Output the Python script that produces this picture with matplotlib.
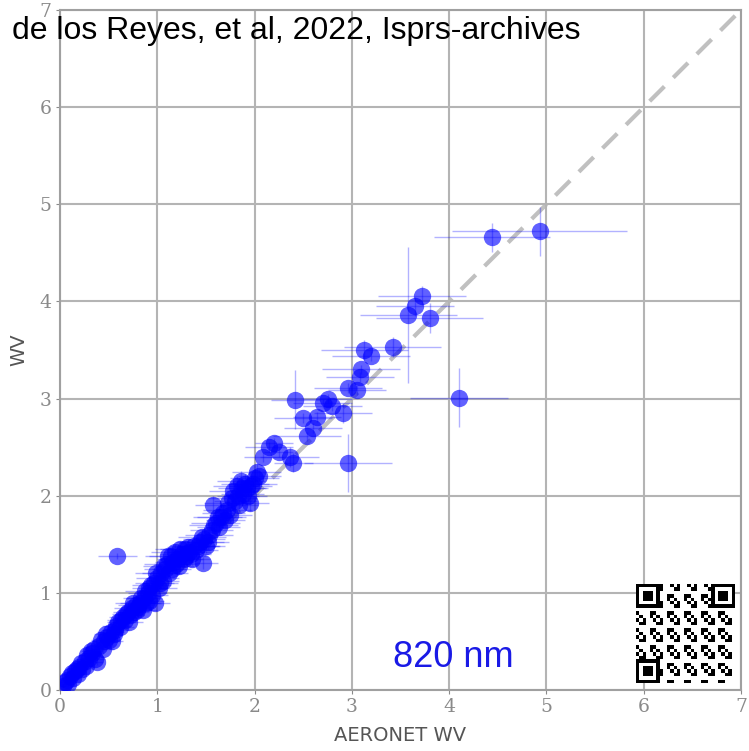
import matplotlib
matplotlib.use("Agg")
import matplotlib.pyplot as plt
import numpy as np

# water vapour: AERONET vs retrieved (820 nm)
aeronet_wv = [0.03, 0.05, 0.08, 0.10, 0.13, 0.15, 0.18, 0.20, 0.23, 0.26,
              0.28, 0.30, 0.33, 0.36, 0.38, 0.40, 0.42, 0.45, 0.48, 0.50,
              0.52, 0.55, 0.58, 0.60, 0.62, 0.65, 0.67, 0.70, 0.72, 0.74,
              0.76, 0.78, 0.80, 0.82, 0.85, 0.86, 0.88, 0.90, 0.92, 0.95,
              0.97, 0.98, 1.00, 1.02, 1.04, 1.06, 1.08, 1.10, 1.12, 1.14,
              1.16, 1.18, 1.20, 1.22, 1.25, 1.28, 1.30, 1.33, 1.36, 1.38,
              1.40, 1.44, 1.47, 1.48, 1.50, 1.53, 1.56, 1.57, 1.60, 1.63,
              1.66, 1.70, 1.72, 1.75, 1.78, 1.80, 1.82, 1.84, 1.86, 1.88,
              1.90, 1.93, 1.96, 2.00, 2.05,
              0.07, 0.12, 0.17, 0.22, 0.27, 0.32, 0.35, 0.44, 0.47, 0.53,
              0.57, 0.63, 0.68, 0.71, 0.75, 0.79, 0.83, 0.87, 0.91, 0.94,
              0.99, 1.03, 1.07, 1.11, 1.15, 1.19, 1.23, 1.27, 1.32, 1.35,
              1.42, 1.46, 1.52, 1.58, 1.62, 1.68, 1.73, 1.77, 1.83, 1.87,
              1.92, 1.98, 2.02, 1.95,
              2.09, 2.15, 2.20, 2.25, 2.36, 2.40, 2.42, 2.50, 2.54, 2.60,
              2.64, 2.70, 2.75, 2.80, 2.91, 2.96, 3.05, 3.08, 3.09, 3.13,
              3.20, 3.42, 3.58, 3.65, 3.72, 3.80, 4.44, 4.93, 4.10, 2.96,
              0.59]
model_wv = [0.04, 0.08, 0.06, 0.14, 0.12, 0.20, 0.17, 0.24, 0.22, 0.30,
            0.36, 0.33, 0.38, 0.32, 0.29, 0.45, 0.52, 0.50, 0.55, 0.52,
            0.60, 0.58, 0.66, 0.70, 0.65, 0.75, 0.72, 0.80, 0.77, 0.84,
            0.80, 0.88, 0.85, 0.90, 0.82, 0.95, 0.90, 1.00, 1.05, 0.98,
            1.10, 0.90, 1.15, 1.05, 1.20, 1.12, 1.25, 1.30, 1.20, 1.38,
            1.32, 1.42, 1.35, 1.28, 1.40, 1.45, 1.38, 1.42, 1.35, 1.48,
            1.44, 1.52, 1.31, 1.55, 1.48, 1.60, 1.65, 1.90, 1.72, 1.68,
            1.78, 1.75, 1.85, 1.80, 2.05, 1.95, 2.10, 1.90, 2.15, 2.02,
            2.12, 2.00, 2.10, 2.18, 2.20,
            0.10, 0.18, 0.22, 0.28, 0.25, 0.40, 0.42, 0.42, 0.58, 0.50,
            0.62, 0.72, 0.78, 0.70, 0.90, 0.82, 0.95, 1.02, 0.92, 1.08,
            1.20, 1.10, 1.28, 1.38, 1.25, 1.30, 1.45, 1.35, 1.47, 1.40,
            1.48, 1.58, 1.52, 1.70, 1.78, 1.82, 1.92, 1.98, 2.00, 2.08,
            2.08, 2.12, 2.24, 1.92,
            2.40, 2.50, 2.54, 2.45, 2.40, 2.34, 2.99, 2.80, 2.61, 2.70,
            2.81, 2.95, 3.00, 2.92, 2.85, 3.11, 3.09, 3.22, 3.30, 3.50,
            3.44, 3.53, 3.86, 3.95, 4.06, 3.83, 4.66, 4.72, 3.01, 2.34,
            1.38]
aeronet_err = [0.05, 0.05, 0.06, 0.06, 0.05, 0.08, 0.06, 0.08, 0.07, 0.10,
               0.08, 0.10, 0.08, 0.10, 0.06, 0.12, 0.10, 0.12, 0.10, 0.12,
               0.14, 0.10, 0.15, 0.12, 0.14, 0.15, 0.12, 0.16, 0.14, 0.18,
               0.15, 0.18, 0.16, 0.20, 0.15, 0.18, 0.16, 0.20, 0.18, 0.16,
               0.20, 0.15, 0.22, 0.18, 0.20, 0.16, 0.22, 0.24, 0.20, 0.22,
               0.18, 0.24, 0.20, 0.16, 0.22, 0.25, 0.20, 0.22, 0.18, 0.25,
               0.22, 0.25, 0.15, 0.22, 0.20, 0.25, 0.22, 0.18, 0.25, 0.22,
               0.25, 0.20, 0.25, 0.22, 0.25, 0.22, 0.25, 0.20, 0.25, 0.22,
               0.25, 0.20, 0.22, 0.25, 0.22,
               0.05, 0.06, 0.07, 0.08, 0.08, 0.10, 0.10, 0.12, 0.12, 0.12,
               0.14, 0.15, 0.15, 0.14, 0.18, 0.16, 0.18, 0.20, 0.16, 0.20,
               0.22, 0.18, 0.22, 0.24, 0.20, 0.22, 0.25, 0.20, 0.22, 0.20,
               0.22, 0.25, 0.22, 0.25, 0.25, 0.22, 0.25, 0.25, 0.22, 0.25,
               0.22, 0.25, 0.25, 0.20,
               0.20, 0.25, 0.20, 0.15, 0.30, 0.20, 0.25, 0.30, 0.35, 0.30,
               0.25, 0.30, 0.25, 0.30, 0.30, 0.35, 0.30, 0.35, 0.40, 0.45,
               0.40, 0.50, 0.50, 0.40, 0.45, 0.55, 0.60, 0.90, 0.50, 0.45,
               0.20]
model_err = [0.02, 0.02, 0.03, 0.03, 0.02, 0.03, 0.03, 0.04, 0.03, 0.04,
             0.03, 0.04, 0.03, 0.04, 0.03, 0.05, 0.04, 0.05, 0.04, 0.05,
             0.05, 0.04, 0.05, 0.05, 0.04, 0.06, 0.05, 0.06, 0.05, 0.06,
             0.05, 0.06, 0.05, 0.07, 0.05, 0.06, 0.05, 0.07, 0.06, 0.05,
             0.07, 0.05, 0.08, 0.06, 0.07, 0.06, 0.08, 0.08, 0.06, 0.08,
             0.07, 0.08, 0.07, 0.06, 0.08, 0.08, 0.07, 0.08, 0.06, 0.08,
             0.07, 0.08, 0.06, 0.08, 0.07, 0.08, 0.08, 0.10, 0.08, 0.07,
             0.08, 0.07, 0.08, 0.08, 0.10, 0.08, 0.10, 0.07, 0.10, 0.08,
             0.10, 0.07, 0.08, 0.10, 0.08,
             0.02, 0.03, 0.03, 0.04, 0.03, 0.04, 0.04, 0.05, 0.05, 0.05,
             0.05, 0.06, 0.06, 0.05, 0.06, 0.06, 0.07, 0.07, 0.06, 0.07,
             0.08, 0.07, 0.08, 0.08, 0.07, 0.08, 0.08, 0.07, 0.08, 0.07,
             0.08, 0.08, 0.07, 0.08, 0.08, 0.08, 0.10, 0.08, 0.08, 0.10,
             0.08, 0.08, 0.10, 0.08,
             0.05, 0.05, 0.05, 0.05, 0.10, 0.10, 0.30, 0.05, 0.05, 0.05,
             0.05, 0.05, 0.05, 0.05, 0.10, 0.05, 0.05, 0.05, 0.05, 0.10,
             0.05, 0.10, 0.70, 0.10, 0.10, 0.15, 0.15, 0.25, 0.30, 0.30,
             0.03]

ticks = [0, 1, 2, 3, 4, 5, 6, 7]
grey = '#8a8a8a'

fig = plt.figure(figsize=(7.49, 7.51), dpi=100)
ax = fig.add_axes([0.0801, 0.0812, 0.9092, 0.9055])

ax.grid(True, color='#b4b4b4', linewidth=1.5, zorder=0)
ax.plot([0, 7], [0, 7], linestyle=(0, (5, 3)), color='#c0c0c0', linewidth=3, zorder=1)

ax.errorbar(aeronet_wv, model_wv, xerr=aeronet_err, yerr=model_err,
            fmt='none', ecolor='blue', elinewidth=1, alpha=0.3, zorder=2)
ax.plot(aeronet_wv, model_wv, 'o', color='blue', markersize=12.5,
        markeredgewidth=0, alpha=0.62, zorder=3)

ax.set_xlim(0, 7)
ax.set_ylim(0, 7)
ax.set_xticks(ticks)
ax.set_yticks(ticks)
ax.set_xticklabels([str(t) for t in ticks], fontfamily='DejaVu Serif', fontsize=13.5, color=grey)
ax.set_yticklabels([str(t) for t in ticks], fontfamily='DejaVu Serif', fontsize=13.5, color=grey)
ax.tick_params(direction='out', length=3, color=grey, pad=3)
for s in ax.spines.values():
    s.set_color('#a0a0a0')
    s.set_linewidth(1.5)

ax.set_xlabel('AERONET WV', fontsize=14, color='#555555', labelpad=7)
ax.set_ylabel('WV', fontsize=14, color='#555555', labelpad=8)

ax.text(4.04, 0.24, '820 nm', color='#1a1ae6', fontsize=26,
        fontfamily='Liberation Sans', ha='center', va='baseline', zorder=5)
fig.text(0.016, 0.959, 'de los Reyes, et al, 2022, Isprs-archives', fontsize=23,
         fontfamily='Liberation Sans', color='black', ha='left', va='center')

# QR-like badge in the lower right corner
n = 29
ii, jj = np.meshgrid(np.arange(n), np.arange(n), indexing='ij')
qr = ((ii * 7 + jj * 13 + ii * jj) % 5 < 2).astype(float)
for (r, c) in [(0, 0), (0, n - 7), (n - 7, 0)]:
    qr[r:r + 7, c:c + 7] = 1
    qr[r + 1:r + 6, c + 1:c + 6] = 0
    qr[r + 2:r + 5, c + 2:c + 5] = 1
qax = fig.add_axes([0.849, 0.088, 0.132, 0.136])
qax.imshow(1 - qr, cmap='gray', interpolation='nearest', vmin=0, vmax=1)
qax.axis('off')

fig.savefig('out.png', dpi=100)
